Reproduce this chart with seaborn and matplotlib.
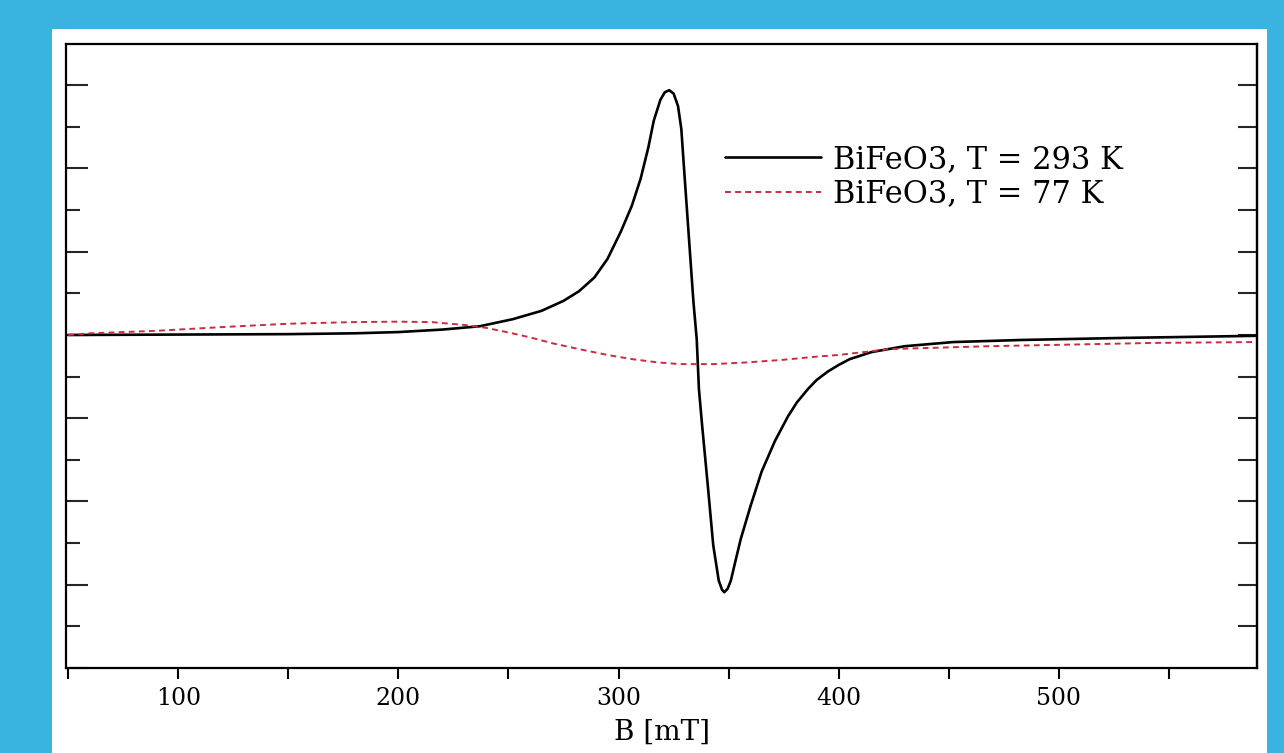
import numpy as np
import pandas as pd
import matplotlib
matplotlib.use("Agg")
import matplotlib.pyplot as plt
from matplotlib.patches import Rectangle
from matplotlib.ticker import MultipleLocator
import seaborn as sns

# ---- data (B in mT, signal in arbitrary units)
b_293 = [50, 100, 150, 180, 200, 220, 237, 252, 265, 275, 282, 289, 295, 301, 306,
         310, 313.5, 316, 319, 321, 323, 325, 327, 328.5, 330, 332, 334, 335.5,
         336.5, 338, 340.5, 343, 345.5, 347, 348, 349.5, 351, 353, 355.5, 360, 365,
         371, 377, 381, 386, 390, 395, 400, 405, 415, 430, 452, 483, 530, 590]
s_293 = [0.0, 0.01, 0.02, 0.04, 0.07, 0.13, 0.21, 0.38, 0.58, 0.82, 1.05, 1.38, 1.83,
         2.48, 3.10, 3.75, 4.50, 5.15, 5.65, 5.83, 5.88, 5.80, 5.50, 4.95, 3.80, 2.30,
         0.80, -0.10, -1.30, -2.20, -3.60, -5.05, -5.90, -6.12, -6.18, -6.10, -5.90,
         -5.45, -4.90, -4.10, -3.28, -2.55, -1.95, -1.62, -1.30, -1.08, -0.88, -0.72,
         -0.58, -0.41, -0.27, -0.17, -0.12, -0.07, -0.02]

b_77 = [50, 60, 90, 120, 150, 180, 200, 215, 230, 240, 250, 260, 270, 283, 295, 306,
        318, 328, 343, 358, 374, 390, 400, 423, 468, 544, 590]
s_77 = [0.0, 0.04, 0.10, 0.19, 0.27, 0.31, 0.32, 0.31, 0.24, 0.17, 0.06, -0.06, -0.20,
        -0.35, -0.48, -0.58, -0.66, -0.70, -0.70, -0.66, -0.60, -0.52, -0.48, -0.34,
        -0.27, -0.19, -0.17]

labels = ["BiFeO3, T = 293 K", "BiFeO3, T = 77 K"]
x_ticks = [100, 200, 300, 400, 500]
x_label = "B [mT]"

sns.set_theme(style="white")
plt.rcParams["font.family"] = ["DejaVu Serif", "Liberation Serif"]

W, H = 1284, 753
fig = plt.figure(figsize=(W / 100, H / 100), dpi=100)
fig.patch.set_facecolor("#3bb3e0")
panel = Rectangle((52 / W, 0), (1267 - 52) / W, 1 - 29 / H,
                  transform=fig.transFigure, facecolor="white",
                  edgecolor="none", zorder=-10)
fig.add_artist(panel)

ax = fig.add_axes([66 / W, 1 - 668 / H, (1257 - 66) / W, (668 - 44) / H])
ax.set_facecolor("white")
ax.set_zorder(1)

df1 = pd.DataFrame({"B": b_293, "S": s_293})
df2 = pd.DataFrame({"B": b_77, "S": s_77})
sns.lineplot(data=df1, x="B", y="S", ax=ax, color="black", lw=1.9, sort=False,
             label=labels[0])
sns.lineplot(data=df2, x="B", y="S", ax=ax, color="#cc2a3f", lw=1.4, sort=False,
             linestyle=(0, (3.0, 2.2)), label=labels[1])

ax.set_xlim(49, 590)
ax.set_ylim(-8, 6.99)

for s in ax.spines.values():
    s.set_visible(True)
    s.set_color("black")
    s.set_linewidth(1.6)

ax.set_xticks(x_ticks)
ax.set_xticklabels([str(t) for t in x_ticks])
ax.xaxis.set_minor_locator(MultipleLocator(50))
ax.tick_params(axis="x", which="both", direction="out", bottom=True, top=False,
               length=8, width=1.5, colors="black", labelsize=17, pad=6)
ax.yaxis.set_major_locator(MultipleLocator(2))
ax.yaxis.set_minor_locator(MultipleLocator(1))
ax.tick_params(axis="y", which="major", direction="in", left=True, right=False,
               length=16, width=1.5, labelleft=False)
ax.tick_params(axis="y", which="minor", direction="in", left=True, right=False,
               length=10, width=1.5)

sec = ax.secondary_yaxis("right")
sec.set_yticks(list(range(-7, 7)))
sec.tick_params(axis="y", direction="in", length=14, width=1.5, labelright=False)
sec.spines["right"].set_linewidth(1.6)

ax.set_xlabel(x_label, fontsize=20, labelpad=6, color="black")
ax.set_ylabel("")

leg = ax.legend(loc="upper left", bbox_to_anchor=(0.553, 0.840), frameon=False,
                fontsize=22, handlelength=3.15, handletextpad=0.4,
                labelspacing=0.12, borderpad=0, borderaxespad=0)
for t in leg.get_texts():
    t.set_color("black")

fig.savefig("out.png", dpi=100, facecolor=fig.get_facecolor())
